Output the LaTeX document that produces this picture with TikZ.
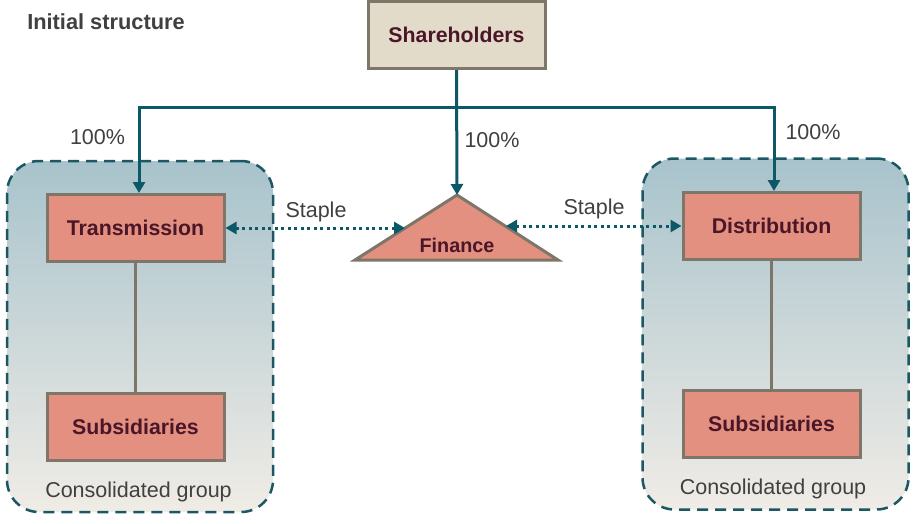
\documentclass[tikz,border=0pt]{standalone}
\usepackage{fontspec}
\setmainfont{Liberation Sans}
\usetikzlibrary{arrows.meta}
\definecolor{tealline}{RGB}{12,88,102}
\definecolor{tealdash}{RGB}{28,88,100}
\definecolor{boxfill}{RGB}{227,144,128}
\definecolor{boxline}{RGB}{127,118,106}
\definecolor{shfill}{RGB}{227,219,201}
\definecolor{txtm}{RGB}{74,22,40}
\definecolor{txtg}{RGB}{64,64,64}
\definecolor{regtop}{RGB}{168,195,204}
\definecolor{regmid}{RGB}{205,216,216}
\definecolor{regbot}{RGB}{240,236,230}
\begin{document}
\begin{tikzpicture}[x=1pt,y=-1pt,
  entity/.style={draw=boxline, line width=3pt, fill=boxfill, minimum width=177pt,
    minimum height=67pt, inner sep=0pt, font=\fontsize{21.3}{25}\selectfont\bfseries, text=txtm},
  region/.style={draw=tealdash, line width=2.5pt, dash pattern=on 11pt off 7pt,
    rounded corners=32pt, top color=regtop, middle color=regmid, bottom color=regbot,
    minimum width=266pt, minimum height=351pt, inner sep=0pt},
  lbl/.style={font=\fontsize{21.5}{25}\selectfont, text=txtg, inner sep=0pt},
  own/.style={draw=tealline, line width=3pt, line join=miter},
  staple/.style={draw=tealline, line width=3pt, dash pattern=on 3pt off 3.5pt},
  tip/.style={-{Triangle[length=11pt,width=12pt]}},
  tips/.style={{Triangle[length=11pt,width=12pt]}-{Triangle[length=11pt,width=12pt]}}
]
\useasboundingbox[fill=white] (0,0) rectangle (915,523);

% consolidated regions
\node[region] (grpL) at (140,336.5) {};
\node[region] (grpR) at (775.5,334) {};

% title
\node[lbl, font=\fontsize{21.8}{25}\selectfont\bfseries] (title) at (106,22) {Initial structure};

% entities
\node[entity, fill=shfill] (sh) at (456.5,35) {Shareholders};
\node[entity] (trans) at (135.5,228) {Transmission};
\node[entity] (subL) at (135.5,426.5) {Subsidiaries};
\node[entity] (dist) at (771.5,226) {Distribution};
\node[entity] (subR) at (771.5,423.5) {Subsidiaries};

% finance triangle
\coordinate (finA) at (457,195);
\coordinate (finBL) at (355,260);
\coordinate (finBR) at (558,260);
\coordinate (finL) at (405,228);
\coordinate (finR) at (506,226);
\draw[draw=boxline, line width=3pt, fill=boxfill, line join=miter] (finA) -- (finBL) -- (finBR) -- cycle;
\node[font=\fontsize{19.8}{23}\selectfont\bfseries, text=txtm] (fin) at (457,245) {Finance};

% group labels
\node[lbl] (cgL) at (138.5,492) {Consolidated group};
\node[lbl] (cgR) at (773,489) {Consolidated group};

% internal links
\draw[draw=boxline, line width=3pt] (trans.south) -- (subL.north);
\draw[draw=boxline, line width=3pt] (dist.south) -- (subR.north);

% ownership connectors
\coordinate (hL) at (139,107);
\coordinate (hR) at (774,107);
\draw[own, tips] (hL |- trans.north) -- (hL) -- (hR) -- (hR |- dist.north);
\draw[own, tip] (sh.south) -- (finA);

\node[lbl] (pL) at (97.5,137) {100\%};
\node[lbl] (pM) at (492,140) {100\%};
\node[lbl] (pR) at (813,132) {100\%};

% staple links
\draw[staple, tips] (trans.east) -- (finL);
\draw[staple, tips] (finR) -- (dist.west);
\node[lbl] (sL) at (316,212) {Staple};
\node[lbl] (sR) at (594,209) {Staple};
\end{tikzpicture}
\end{document}
